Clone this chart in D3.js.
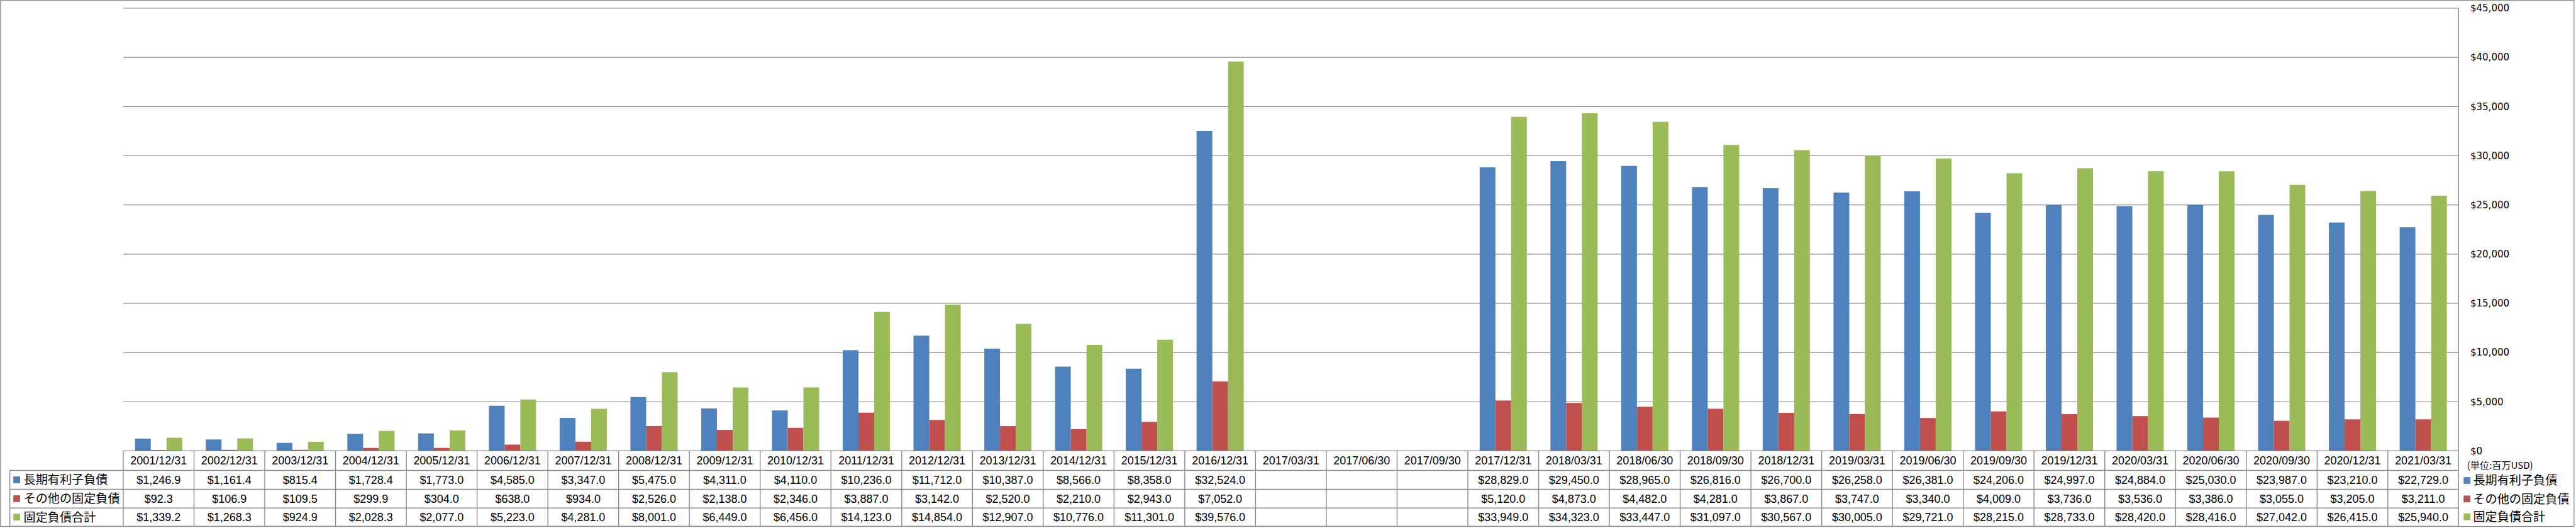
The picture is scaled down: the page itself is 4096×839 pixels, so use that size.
<!DOCTYPE html>
<html>
<head>
<meta charset="utf-8">
<script src="https://cdn.jsdelivr.net/npm/d3@7"></script>
<style>
  html, body { margin: 0; padding: 0; background: #fff; }
  svg { display: block; }
</style>
</head>
<body>
<svg id="chart" width="4096" height="839"></svg>
<script>
// ---------- data ----------
const categories = [
  "2001/12/31","2002/12/31","2003/12/31","2004/12/31","2005/12/31","2006/12/31",
  "2007/12/31","2008/12/31","2009/12/31","2010/12/31","2011/12/31","2012/12/31",
  "2013/12/31","2014/12/31","2015/12/31","2016/12/31","2017/03/31","2017/06/30",
  "2017/09/30","2017/12/31","2018/03/31","2018/06/30","2018/09/30","2018/12/31",
  "2019/03/31","2019/06/30","2019/09/30","2019/12/31","2020/03/31","2020/06/30",
  "2020/09/30","2020/12/31","2021/03/31"
];
const seriesNames = ["長期有利子負債", "その他の固定負債", "固定負債合計"];
const longTermDebt = [
  1246.9, 1161.4, 815.4, 1728.4, 1773.0, 4585.0, 3347.0, 5475.0, 4311.0, 4110.0,
  10236.0, 11712.0, 10387.0, 8566.0, 8358.0, 32524.0, null, null, null,
  28829.0, 29450.0, 28965.0, 26816.0, 26700.0, 26258.0, 26381.0, 24206.0, 24997.0,
  24884.0, 25030.0, 23987.0, 23210.0, 22729.0
];
const otherFixedLiabilities = [
  92.3, 106.9, 109.5, 299.9, 304.0, 638.0, 934.0, 2526.0, 2138.0, 2346.0,
  3887.0, 3142.0, 2520.0, 2210.0, 2943.0, 7052.0, null, null, null,
  5120.0, 4873.0, 4482.0, 4281.0, 3867.0, 3747.0, 3340.0, 4009.0, 3736.0,
  3536.0, 3386.0, 3055.0, 3205.0, 3211.0
];
const totalFixedLiabilities = [
  1339.2, 1268.3, 924.9, 2028.3, 2077.0, 5223.0, 4281.0, 8001.0, 6449.0, 6456.0,
  14123.0, 14854.0, 12907.0, 10776.0, 11301.0, 39576.0, null, null, null,
  33949.0, 34323.0, 33447.0, 31097.0, 30567.0, 30005.0, 29721.0, 28215.0, 28733.0,
  28420.0, 28416.0, 27042.0, 26415.0, 25940.0
];
const yTicks = [0, 5000, 10000, 15000, 20000, 25000, 30000, 35000, 40000, 45000];
const unitLabel = "(単位:百万USD)";

// ---------- layout (reference px, scaled at the end) ----------
const S = 0.977;
const colors = ["#4F81BD", "#C0504D", "#9BBB59"];
const seriesValues = [longTermDebt, otherFixedLiabilities, totalFixedLiabilities];
const gridColor = "#878787";
const plotLeft = 200.6, plotRight = 4001.4, plotTop = 13.3, plotBottom = 733.3;
const rowEdges = [plotBottom, 765.0, 795.8, 826.2, 856.0];
const labelLeft = 16;

const numFont = "'Liberation Sans', Arial, sans-serif";
const cjkFont = "'Noto Sans CJK JP', 'Noto Sans', sans-serif";
const axisFont = "'DejaVu Sans', Verdana, sans-serif";

const svg = d3.select("#chart");
const g = svg.append("g").attr("transform", `scale(${S})`);

const x = d3.scaleBand().domain(categories).range([plotLeft, plotRight]).paddingInner(0).paddingOuter(0);
const xs = d3.scaleBand().domain([0, 1, 2]).range([0, x.bandwidth()]).paddingInner(0).paddingOuter(0.75);
const y = d3.scaleLinear().domain([0, 45000]).range([plotBottom, plotTop]);

// outer border
g.append("rect")
  .attr("x", 0.8).attr("y", 0.8).attr("width", 4188.4).attr("height", 855.4)
  .attr("fill", "none").attr("stroke", gridColor).attr("stroke-width", 1.3);

// gridlines
g.append("g").selectAll("line").data(yTicks.filter(d => d > 0)).join("line")
  .attr("x1", plotLeft).attr("x2", plotRight)
  .attr("y1", d => y(d)).attr("y2", d => y(d))
  .attr("stroke", gridColor).attr("stroke-width", 1.2);

// bars
const barG = g.append("g");
seriesValues.forEach((vals, si) => {
  barG.append("g").selectAll("rect")
    .data(categories.map((c, i) => ({ c, v: vals[i] })).filter(d => d.v != null))
    .join("rect")
    .attr("x", d => x(d.c) + xs(si))
    .attr("width", xs.bandwidth())
    .attr("y", d => y(d.v))
    .attr("height", d => y(0) - y(d.v))
    .attr("fill", colors[si]);
});

// right value axis
const axis = d3.axisRight(y).tickValues(yTicks).tickSize(0).tickPadding(19)
  .tickFormat(d => "$" + d3.format(",")(d));
const axG = g.append("g").attr("transform", `translate(${plotRight},0)`).call(axis);
axG.select(".domain").remove();
axG.selectAll("text")
  .attr("font-family", axisFont).attr("font-size", 15.4).attr("fill", "#000");

// vertical axis line through table
g.append("line")
  .attr("x1", plotRight).attr("x2", plotRight).attr("y1", plotTop).attr("y2", rowEdges[4])
  .attr("stroke", gridColor).attr("stroke-width", 1.3);

// data table grid
const tbl = g.append("g").attr("stroke", gridColor).attr("stroke-width", 1.4);
tbl.append("line").attr("x1", plotLeft).attr("x2", plotRight)
  .attr("y1", rowEdges[0]).attr("y2", rowEdges[0]);
rowEdges.slice(1).forEach(ry => {
  tbl.append("line").attr("x1", labelLeft).attr("x2", plotRight).attr("y1", ry).attr("y2", ry);
});
tbl.append("line").attr("x1", labelLeft).attr("x2", labelLeft)
  .attr("y1", rowEdges[1]).attr("y2", rowEdges[4]);
tbl.selectAll("line.col").data(categories).join("line").attr("class", "col")
  .attr("x1", d => x(d)).attr("x2", d => x(d))
  .attr("y1", rowEdges[0]).attr("y2", rowEdges[4]);

// header texts
const rowMid = i => (rowEdges[i] + rowEdges[i + 1]) / 2;
g.append("g").selectAll("text").data(categories).join("text")
  .attr("x", d => x(d) + x.bandwidth() / 2)
  .attr("y", rowMid(0)).attr("dy", "0.36em")
  .attr("text-anchor", "middle")
  .attr("font-family", numFont).attr("font-size", 18.4).attr("fill", "#000")
  .text(d => d);

// value texts
const fmt = v => "$" + d3.format(",.1f")(v);
seriesValues.forEach((vals, si) => {
  g.append("g").selectAll("text")
    .data(categories.map((c, i) => ({ c, v: vals[i] })).filter(d => d.v != null))
    .join("text")
    .attr("x", d => x(d.c) + x.bandwidth() / 2)
    .attr("y", rowMid(si + 1)).attr("dy", "0.36em")
    .attr("text-anchor", "middle")
    .attr("font-family", numFont).attr("font-size", 18.4).attr("fill", "#000")
    .text(d => fmt(d.v));
});

// row labels (left, in table) and legend (right)
function legendBlock(keyX, textX, yCenters) {
  const lg = g.append("g");
  seriesNames.forEach((name, si) => {
    lg.append("rect")
      .attr("x", keyX).attr("y", yCenters[si] - 5.5)
      .attr("width", 11).attr("height", 11).attr("fill", colors[si]);
    lg.append("text")
      .attr("x", textX).attr("y", yCenters[si]).attr("dy", "0.36em")
      .attr("font-family", cjkFont).attr("font-size", 19.6).attr("fill", "#000")
      .text(name);
  });
}
legendBlock(21.7, 38.5, [rowMid(1), rowMid(2), rowMid(3)]);
legendBlock(4009.5, 4025, [781.5, 811.5, 840.5]);

// unit label
g.append("text")
  .attr("x", 4015).attr("y", 757).attr("dy", "0.36em")
  .attr("font-family", cjkFont).attr("font-size", 15.5).attr("fill", "#000")
  .text(unitLabel);
</script>
</body>
</html>
